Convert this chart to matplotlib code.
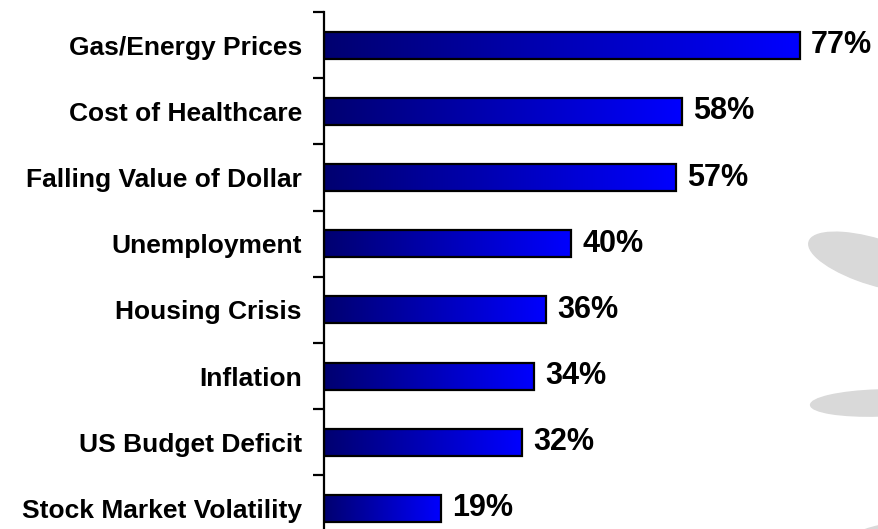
import matplotlib.pyplot as plt
import numpy as np
from matplotlib.colors import LinearSegmentedColormap
from matplotlib.patches import Ellipse

categories = [
    "Gas/Energy Prices",
    "Cost of Healthcare",
    "Falling Value of Dollar",
    "Unemployment",
    "Housing Crisis",
    "Inflation",
    "US Budget Deficit",
    "Stock Market Volatility",
]
values = [77, 58, 57, 40, 36, 34, 32, 19]
value_labels = ["77%", "58%", "57%", "40%", "36%", "34%", "32%", "19%"]

plt.rcParams["font.family"] = ["Liberation Sans", "DejaVu Sans"]

W, H = 879, 529
fig = plt.figure(figsize=(W / 100, H / 100), dpi=100)

# faint watermark petals in the background (right side)
for (cx, cy, w, h, ang) in [(875, 262, 150, 42, -32), (878, 403, 135, 26, 3), (885, 535, 80, 20, 20)]:
    fig.patches.append(Ellipse((cx / W, 1 - cy / H), w / W, h / H, angle=ang,
                               transform=fig.transFigure, color="#d9d9d9", zorder=0))

x0 = 324
px_per_pct = 6.18
xmax = 90
ax = fig.add_axes([x0 / W, 1 - 541.6 / H, xmax * px_per_pct / W, (541.6 - 12) / H])
ax.patch.set_alpha(0)

cmap = LinearSegmentedColormap.from_list("bar", ["#000070", "#0000ff"])
grad = np.linspace(0, 1, 256).reshape(1, -1)
h = 0.41
y = np.arange(len(categories))
for yi, v in zip(y, values):
    ax.imshow(grad, extent=(0, v, yi + h / 2, yi - h / 2), cmap=cmap, aspect="auto", zorder=2)
ax.barh(y, values, height=h, fill=False, edgecolor="black", linewidth=1.6, zorder=3)

for yi, v, lab in zip(y, values, value_labels):
    ax.annotate(lab, (v, yi), xytext=(8, 0), textcoords="offset points",
                va="center", ha="left", fontsize=22, fontweight="bold", annotation_clip=False)

ax.set_xlim(0, xmax)
ax.set_ylim(len(categories) - 0.5, -0.5)
ax.set_yticks(y)
ax.set_yticklabels(categories, fontsize=19, fontweight="bold")
ax.set_yticks(np.arange(-0.5, len(categories) + 0.5, 1), minor=True)
ax.tick_params(axis="y", which="major", length=0, pad=16)
ax.tick_params(axis="y", which="minor", length=8, width=1.6, direction="out")
ax.set_xticks([])
for s in ["top", "right", "bottom"]:
    ax.spines[s].set_visible(False)
ax.spines["left"].set_linewidth(1.6)

fig.savefig("out.png", dpi=100)
